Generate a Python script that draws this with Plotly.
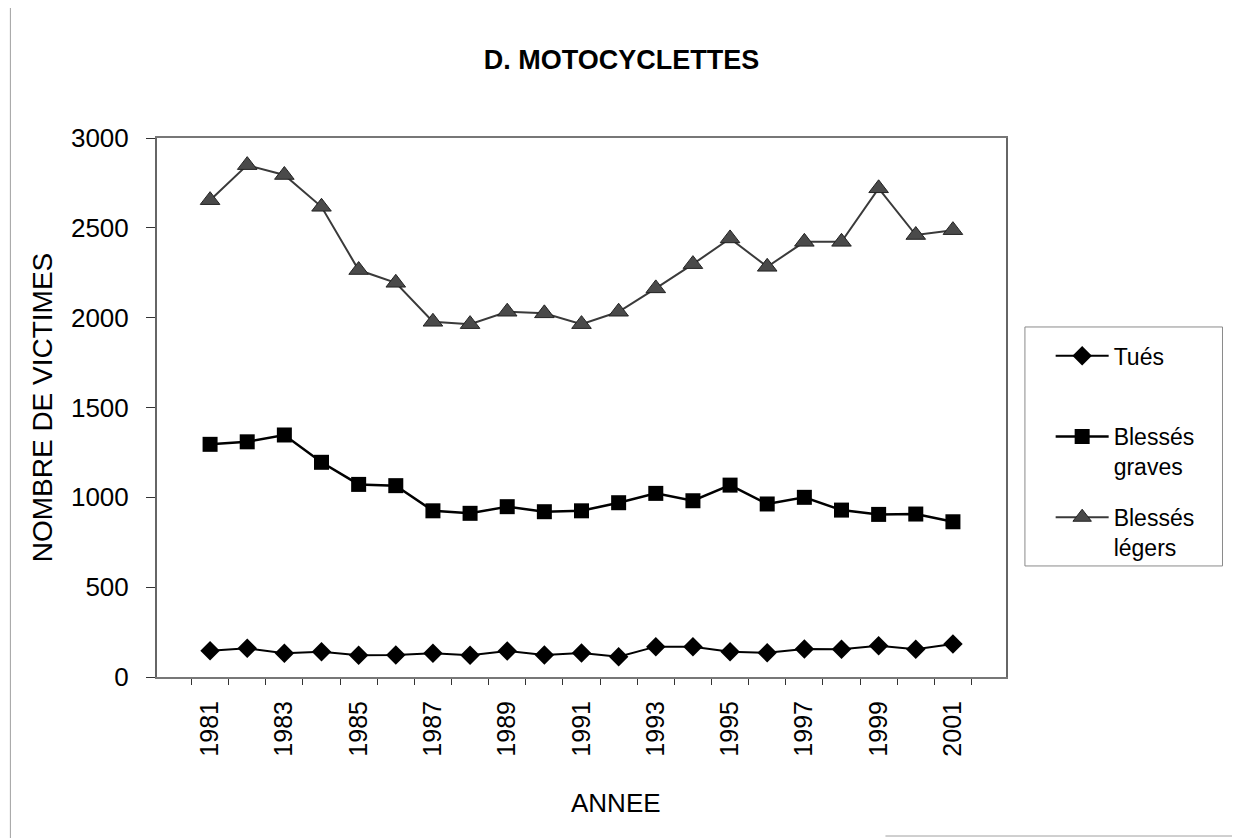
import plotly.graph_objects as go

# ── Data ──────────────────────────────────────────────────────────────────────
years = [str(y) for y in range(1981, 2002)]

tues = [146, 160, 132, 141, 121, 122, 132, 121, 145, 122, 134,
        113, 169, 169, 141, 135, 156, 154, 174, 154, 184]

blesses_graves = [1295, 1309, 1347, 1195, 1072, 1065, 925, 911, 948, 920, 925,
                  970, 1022, 981, 1068, 963, 1000, 929, 905, 907, 864]

blesses_legers = [2654, 2849, 2794, 2617, 2265, 2194, 1977, 1964, 2033, 2024, 1964,
                  2033, 2163, 2298, 2441, 2283, 2422, 2422, 2720, 2460, 2487]

tick_text = [y if int(y) % 2 == 1 else "" for y in years]
y_ticks = [0, 500, 1000, 1500, 2000, 2500, 3000]

FONT = "Liberation Sans, Arial, sans-serif"

fig = go.Figure()

# "Tués" gets an empty second line so the legend rows are spaced like Excel's
fig.add_trace(go.Scatter(
    x=years, y=tues, name="Tués<br>\u00a0", mode="lines+markers",
    line=dict(color="black", width=2),
    marker=dict(symbol="diamond", size=15, color="black"),
    legendgroup="a",
))
fig.add_trace(go.Scatter(
    x=years, y=blesses_graves, name="Blessés<br>graves", mode="lines+markers",
    line=dict(color="black", width=2.5),
    marker=dict(symbol="square", size=15, color="black"),
    legendgroup="b",
))
fig.add_trace(go.Scatter(
    x=years, y=blesses_legers, name="Blessés<br>légers", mode="lines+markers",
    line=dict(color="#3a3a3a", width=2),
    marker=dict(symbol="triangle-up", size=17, color="#4a4a4a",
                line=dict(color="#222", width=1)),
    legendgroup="c",
))

# legend frame
fig.add_shape(type="rect", xref="paper", yref="paper",
              x0=1.0223, x1=1.255, y0=0.206, y1=0.6494,
              line=dict(color="#8a8a8a", width=1))

# outer chart frame (scanned page edges)
fig.add_shape(type="line", xref="paper", yref="paper",
              x0=-0.1727, x1=-0.1727, y0=-0.32, y1=1.26,
              line=dict(color="#a0a0a0", width=1))
fig.add_shape(type="line", xref="paper", yref="paper",
              x0=0.858, x1=1.28, y0=-0.295, y1=-0.295,
              line=dict(color="#a0a0a0", width=1))
fig.add_shape(type="line", xref="paper", yref="paper",
              x0=1.2738, x1=1.2738, y0=-0.295, y1=1.26,
              line=dict(color="#c8c8c8", width=1))

fig.add_annotation(text="ANNEE", xref="paper", yref="paper",
                   x=0.5405, y=-0.2338, xanchor="center", yanchor="middle",
                   showarrow=False, font=dict(family=FONT, size=26, color="black"))

fig.update_layout(
    width=1240, height=838,
    title=dict(text="<b>D. MOTOCYCLETTES</b>", x=0.4948, xanchor="center",
               y=0.938, yanchor="middle",
               font=dict(family=FONT, size=27, color="black")),
    font=dict(family=FONT, color="black"),
    plot_bgcolor="white", paper_bgcolor="white",
    margin=dict(l=149, r=242, t=130, b=169),
    xaxis=dict(
        type="category", tickmode="array", tickvals=years, ticktext=tick_text,
        tickangle=-90, tickson="boundaries", ticks="outside", ticklen=6,
        tickcolor="#333", tickfont=dict(size=25), ticklabelstandoff=12,
        showline=True, linecolor="#777", linewidth=2, mirror=True,
        showgrid=False, zeroline=False,
    ),
    yaxis=dict(
        range=[0, 3000], tickvals=y_ticks, ticks="outside", ticklen=9,
        tickcolor="#333", tickfont=dict(size=26), ticklabelstandoff=12,
        showline=True, linecolor="#666", linewidth=2, mirror=True,
        showgrid=False, zeroline=False,
        title=dict(text="NOMBRE DE VICTIMES", font=dict(size=28), standoff=10),
    ),
    legend=dict(
        x=1.0526, xanchor="left", y=0.636, yanchor="top",
        borderwidth=0, bgcolor="rgba(0,0,0,0)",
        font=dict(size=23), tracegroupgap=18, traceorder="grouped",
        itemwidth=53, valign="top",
    ),
    showlegend=True,
)

fig.write_html("out.html")
